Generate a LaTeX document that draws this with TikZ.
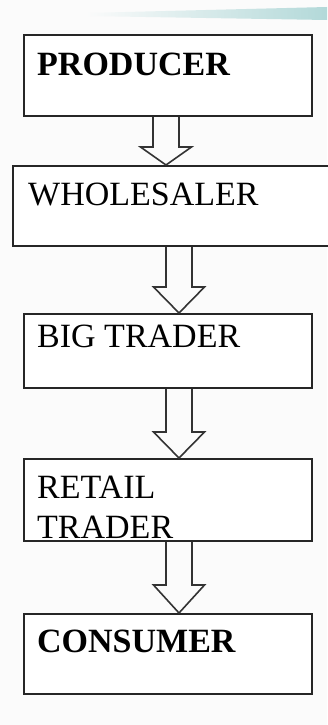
\documentclass[tikz,border=0pt]{standalone}
\usepackage{fontspec}
\setmainfont{Liberation Serif}
\usetikzlibrary{positioning,calc}

% hollow block arrow: [head length]{from}{to}{x of centre}
\newcommand{\flowarrow}[4][26]{%
  \path (#4,0 |- #3.north) coordinate (tip);
  \draw[flow] ({#4-13},0 |- #2.south) -- ($(tip)+(-13,-#1)$) -- ($(tip)+(-25.5,-#1)$)
    -- (tip) -- ($(tip)+(25.5,-#1)$) -- ($(tip)+(13,-#1)$) -- ({#4+13},0 |- #2.south);
}

\begin{document}
\begin{tikzpicture}[
        x=1pt, y=-1pt,
        stage/.style={rectangle, draw=black!85, line width=1.9pt, fill=white, inner sep=0pt, anchor=north west, minimum width=288pt},
        caption/.style={anchor=base west, inner sep=0pt, font=\fontsize{34}{40}\selectfont},
        flow/.style={draw=black!80, line width=1.6pt, line join=miter}
    ]
    \useasboundingbox[fill=gray!3] (0,0) rectangle (327,725);
    % faint streak at the top
    \shade[left color=gray!3, middle color=gray!20!teal!8, right color=teal!30!white] (85,13) -- (327,7) -- (327,20) -- (85,16) -- cycle;

    \node[stage, minimum height=81pt] (producer) at (23,34) {};
    \node[stage, minimum height=80pt, minimum width=330pt] (wholesaler) at (12,165) {};
    \node[stage, minimum height=74pt] (bigtrader) at (23,313) {};
    \node[stage, minimum height=82pt] (retail) at (23,458) {};
    \node[stage, minimum height=80pt] (consumer) at (23,613) {};

    \node[caption, font=\fontsize{34}{40}\selectfont\bfseries] (producer-t) at ([xshift=14pt,yshift=-41pt]producer.north west) {PRODUCER};
    \node[caption] (wholesaler-t) at ([xshift=16pt,yshift=-40pt]wholesaler.north west) {WHOLESALER};
    \node[caption] (bigtrader-t) at ([xshift=14pt,yshift=-34pt]bigtrader.north west) {BIG TRADER};
    \node[caption] (retail-t) at ([xshift=14pt,yshift=-40pt]retail.north west) {RETAIL};
    \node[caption] (trader-t) at ([yshift=-40pt]retail-t.base west) {TRADER};
    \node[caption, font=\fontsize{34}{40}\selectfont\bfseries] (consumer-t) at ([xshift=14pt,yshift=-39pt]consumer.north west) {CONSUMER};

    \flowarrow[18]{producer}{wholesaler}{166}
    \flowarrow{wholesaler}{bigtrader}{179}
    \flowarrow{bigtrader}{retail}{179}
    \flowarrow[28]{retail}{consumer}{179}
\end{tikzpicture}
\end{document}
